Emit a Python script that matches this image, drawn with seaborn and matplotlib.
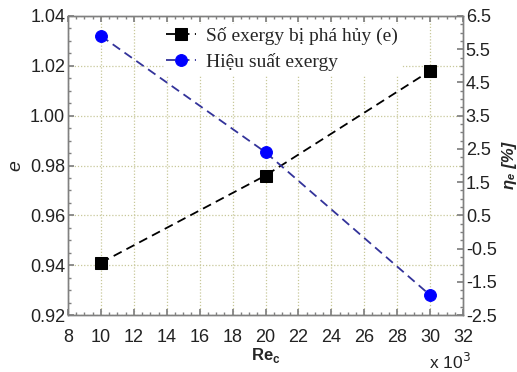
import matplotlib
matplotlib.use("Agg")
import matplotlib.pyplot as plt
import seaborn as sns
import pandas as pd
from matplotlib.ticker import MultipleLocator, AutoMinorLocator

# Data (Re_c in thousands)
re_c = [10, 20, 30]
e_destroyed = [0.941, 0.976, 1.018]
eta_exergy = [5.9, 2.4, -1.9]
label_e = "Số exergy bị phá hủy (e)"
label_eta = "Hiệu suất exergy"

sns.set_theme(style="white")
plt.rcParams['font.family'] = ['Liberation Sans', 'DejaVu Sans']
plt.rcParams['axes.unicode_minus'] = False

df1 = pd.DataFrame({"Re": re_c, "val": e_destroyed})
df2 = pd.DataFrame({"Re": re_c, "val": eta_exergy})

fig = plt.figure(figsize=(5.17, 3.72), dpi=100)
ax = fig.add_axes([0.1315, 0.153, 0.8956 - 0.1315, 0.957 - 0.153])
ax2 = ax.twinx()

sns.lineplot(data=df1, x="Re", y="val", ax=ax, color="black",
             marker="s", markersize=9, markerfacecolor="black", markeredgecolor="black",
             linewidth=1.3, label=label_e, legend=False)
ax.lines[-1].set_linestyle((0, (5, 3)))
sns.lineplot(data=df2, x="Re", y="val", ax=ax2, color="#33339a", marker="o",
             markersize=8.5, markerfacecolor="#0000ff", markeredgecolor="#0000ff",
             linewidth=1.3, label=label_eta, legend=False)
ax2.lines[-1].set_linestyle((0, (5, 3)))

ax.set_xlim(8, 32)
ax.set_ylim(0.92, 1.04)
ax2.set_ylim(-2.5, 6.5)
ax.xaxis.set_major_locator(MultipleLocator(2))
ax.xaxis.set_minor_locator(AutoMinorLocator(4))
ax.set_yticks([0.92, 0.94, 0.96, 0.98, 1.00, 1.02, 1.04])
ax.set_yticklabels(["0.92", "0.94", "0.96", "0.98", "1.00", "1.02", "1.04"])
ax.yaxis.set_minor_locator(AutoMinorLocator(4))
ax2.set_yticks([-2.5, -1.5, -0.5, 0.5, 1.5, 2.5, 3.5, 4.5, 5.5, 6.5])
ax2.yaxis.set_minor_locator(AutoMinorLocator(4))

ax.grid(True, which="major", color="#c8c89a", linestyle=(0, (1, 1.5)), linewidth=0.9)
ax.set_axisbelow(True)

for a in (ax, ax2):
    for s in a.spines.values():
        s.set_color("#808080")
        s.set_linewidth(1.0)
    a.tick_params(which="both", direction="in", colors="#808080", labelcolor="#222222",
                  labelsize=13)
    a.tick_params(which="major", length=4)
    a.tick_params(which="minor", length=2)
ax.tick_params(axis="y", which="both", left=True, right=False, pad=2)
ax.tick_params(axis="x", which="both", bottom=True, top=True, pad=10)
ax2.tick_params(axis="y", which="both", right=True, left=False, pad=2)

ax.set_xlabel("Re$_\\mathregular{c}$", fontsize=12, fontweight="bold", labelpad=0)
ax.set_ylabel("e", fontsize=14, fontstyle="italic", labelpad=4)
ax2.set_ylabel("ηₑ [%]", fontsize=12, fontstyle="italic", fontweight="bold", labelpad=4)

fig.text(0.91, 0.027, "x 10$^3$", ha="right", va="center", fontsize=12.5, color="#222222")

h1, l1 = ax.get_legend_handles_labels()
h2, l2 = ax2.get_legend_handles_labels()
leg = ax2.legend(h1 + h2, l1 + l2, loc="upper left", bbox_to_anchor=(0.232, 0.985),
                 frameon=True, fancybox=False, framealpha=1, edgecolor="white",
                 prop={"family": "Liberation Serif", "size": 14},
                 handlelength=1.5, handletextpad=0.55, borderpad=0.15, labelspacing=0.4,
                 borderaxespad=0.2)

fig.savefig("out.png", dpi=100)
